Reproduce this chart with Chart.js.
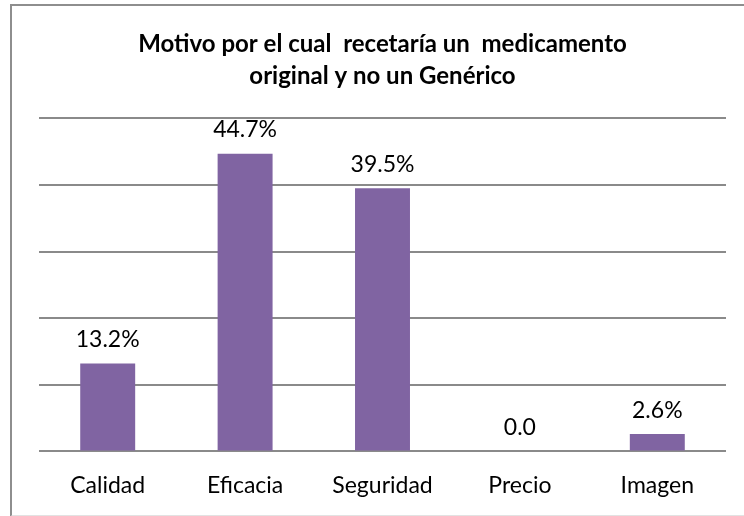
<!DOCTYPE html>
<html lang="es">
<head>
    <meta charset="UTF-8">
    <title>Motivo</title>
    <script src="https://cdn.jsdelivr.net/npm/chart.js"></script>
    <style>
        body { margin: 0; background: #fff; }
        .marco {
            position: absolute; left: 10px; top: 4px; width: 760px; height: 509px;
            border: 2px solid #8e8e8e; border-bottom-color: #e2e2e2;
        }
        #grafico { position: absolute; left: 0; top: 0; }
    </style>
</head>
<body>
    <div class="marco"></div>
    <canvas id="grafico" width="744" height="516"></canvas>
<script>
    var categorias = ['Calidad', 'Eficacia', 'Seguridad', 'Precio', 'Imagen'];
    var porcentajes = [13.2, 44.7, 39.5, 0.0, 2.6];
    var etiquetas = ['13.2%', '44.7%', '39.5%', '0.0', '2.6%'];
    var titulo = ['Motivo por el cual  recetaría un  medicamento', 'original y no un Genérico'];

    // etiquetas encima de cada barra
    var pluginEtiquetas = {
        id: 'etiquetas',
        afterDatasetsDraw(chart) {
            var ctx = chart.ctx;
            var meta = chart.getDatasetMeta(0);
            ctx.save();
            ctx.font = '23px Lato';
            ctx.fillStyle = '#000';
            ctx.textAlign = 'center';
            ctx.textBaseline = 'middle';
            meta.data.forEach(function (barra, i) {
                ctx.fillText(etiquetas[i], barra.x, barra.y - 24);
            });
            ctx.restore();
        }
    };

    const ctx = document.getElementById('grafico').getContext('2d');
    const grafico = new Chart(ctx, {
        type: 'bar',
        data: {
            labels: categorias,
            datasets: [{
                data: porcentajes,
                backgroundColor: '#8064A2',
                barPercentage: 0.4,
                categoryPercentage: 1
            }]
        },
        options: {
            responsive: false,
            animation: false,
            layout: { padding: { left: 39, right: 18, top: 0, bottom: -3 } },
            plugins: {
                legend: { display: false },
                tooltip: { enabled: false },
                title: {
                    display: true,
                    text: titulo,
                    color: '#000',
                    font: { family: 'Lato', size: 24, weight: 'bold', lineHeight: 1.34 },
                    padding: { top: 28, bottom: 26 }
                }
            },
            scales: {
                x: {
                    grid: { display: false, drawTicks: false },
                    border: { display: false },
                    ticks: { color: '#000', font: { family: 'Lato', size: 23 }, padding: 20 }
                },
                y: {
                    min: 0, max: 50,
                    ticks: { display: false, stepSize: 10 },
                    grid: { color: '#8a8a8a', lineWidth: 2, drawTicks: false },
                    border: { display: false }
                }
            }
        },
        plugins: [pluginEtiquetas]
    });
</script>
</body>
</html>
